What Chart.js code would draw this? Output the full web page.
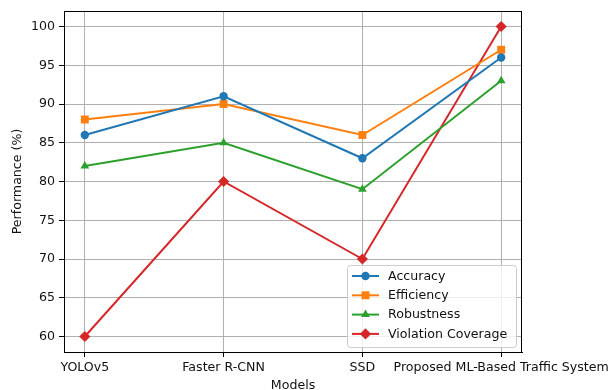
<!DOCTYPE html>
<html>
<head>
<meta charset="utf-8">
<script src="https://cdn.jsdelivr.net/npm/chart.js@4.4.1/dist/chart.umd.min.js"></script>
<style>
  html, body { margin: 0; padding: 0; background: #fff; }
  #wrap { width: 609px; height: 390px; }
</style>
</head>
<body>
<div id="wrap"><canvas id="chart" width="609" height="390"></canvas></div>
<script>
const models = ['YOLOv5', 'Faster R-CNN', 'SSD', 'Proposed ML-Based Traffic System']
const accuracy = [86, 91, 83, 96]
const efficiency = [88, 90, 86, 97]
const robustness = [82, 85, 79, 93]
const violationCoverage = [60, 80, 70, 100]
const yTicks = [60, 65, 70, 75, 80, 85, 90, 95, 100]

const FONT = 'DejaVu Sans'
const FSIZE = 12.6
const TEXT = '#111'

// x as a linear scale so the matplotlib-like 5% margins can be kept
const pts = arr => arr.map((v, i) => ({ x: i, y: v }))

function series(label, values, color, style, radius) {
  return {
    label,
    data: pts(values),
    borderColor: color,
    backgroundColor: color,
    borderWidth: 2,
    pointStyle: style,
    pointRadius: radius,
    pointHoverRadius: radius,
    pointBorderWidth: 0,
    tension: 0
  }
}

// legend drawn inside the plot, lower right, plus the top/right frame lines
const framePlugin = {
  id: 'frameAndLegend',
  afterDraw(chart) {
    const { ctx, chartArea: a } = chart
    ctx.save()
    ctx.strokeStyle = '#000'
    ctx.lineWidth = 1
    ctx.strokeRect(Math.round(a.left) + 0.5, Math.round(a.top) + 0.5,
      Math.round(a.right - a.left) - 1, Math.round(a.bottom - a.top))

    const sets = chart.data.datasets
    const bx = 347, by = 265, bw = 169, bh = 82
    ctx.fillStyle = 'rgba(255,255,255,0.8)'
    ctx.strokeStyle = '#cccccc'
    ctx.beginPath()
    ctx.roundRect(bx + 0.5, by + 0.5, bw, bh, 3)
    ctx.fill()
    ctx.stroke()

    ctx.font = FSIZE + 'px ' + FONT
    ctx.textBaseline = 'middle'
    sets.forEach((ds, i) => {
      const y = 276 + i * 19.3
      ctx.strokeStyle = ds.borderColor
      ctx.lineWidth = 2
      ctx.beginPath()
      ctx.moveTo(352, y)
      ctx.lineTo(379, y)
      ctx.stroke()
      ctx.fillStyle = ds.backgroundColor
      Chart.helpers.drawPoint(ctx, { pointStyle: ds.pointStyle, radius: ds.pointRadius, borderWidth: 0, rotation: 0 }, 365.5, y)
      ctx.fillStyle = TEXT
      ctx.fillText(ds.label, 388, y + 0.5)
    })
    ctx.restore()
  }
}

new Chart(document.getElementById('chart'), {
  type: 'line',
  data: {
    datasets: [
      series('Accuracy', accuracy, '#1f77b4', 'circle', 4.2),
      series('Efficiency', efficiency, '#ff7f0e', 'rect', 5.6),
      series('Robustness', robustness, '#2ca02c', 'triangle', 5),
      series('Violation Coverage', violationCoverage, '#d62728', 'rectRot', 5.6)
    ]
  },
  options: {
    responsive: false,
    animation: false,
    layout: { padding: { left: 0, top: 11, right: 87, bottom: 0 } },
    plugins: {
      legend: { display: false },
      tooltip: { enabled: false }
    },
    scales: {
      x: {
        type: 'linear',
        min: -0.15,
        max: 3.15,
        afterFit(scale) {
          scale.height = 38
          scale.paddingLeft = 0
          scale.paddingRight = 0
        },
        ticks: {
          stepSize: 1,
          includeBounds: false,
          autoSkip: false,
          maxRotation: 0,
          padding: 3,
          color: TEXT,
          font: { family: FONT, size: FSIZE },
          callback: v => models[v] ?? ''
        },
        grid: { color: '#b0b0b0', lineWidth: 1, tickLength: 5, tickColor: '#000' },
        border: { color: '#000', width: 1 },
        title: {
          display: true,
          text: 'Models',
          color: TEXT,
          font: { family: FONT, size: FSIZE, lineHeight: 1 },
          padding: { top: 0, bottom: -2 }
        }
      },
      y: {
        min: 58,
        max: 102,
        afterFit(scale) {
          scale.width = 64
          scale.paddingTop = 0
          scale.paddingBottom = 0
        },
        afterBuildTicks(scale) {
          scale.ticks = yTicks.map(v => ({ value: v }))
        },
        ticks: {
          padding: 4,
          color: TEXT,
          font: { family: FONT, size: FSIZE }
        },
        grid: { color: '#b0b0b0', lineWidth: 1, tickLength: 5, tickColor: '#000' },
        border: { color: '#000', width: 1 },
        title: {
          display: true,
          text: 'Performance (%)',
          color: TEXT,
          font: { family: FONT, size: FSIZE },
          padding: { top: 10, bottom: 0 }
        }
      }
    }
  },
  plugins: [framePlugin]
})
</script>
</body>
</html>
